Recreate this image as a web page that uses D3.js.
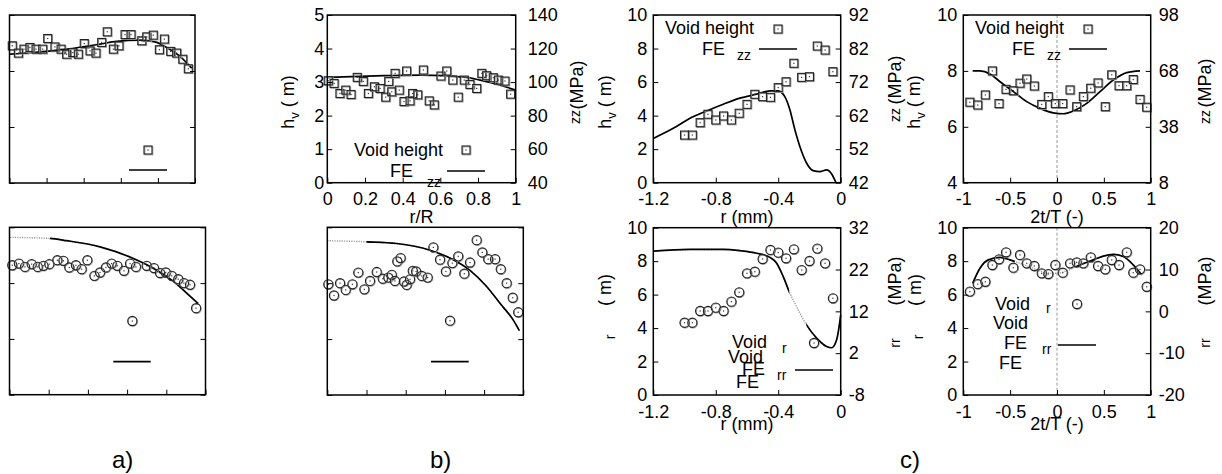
<!DOCTYPE html>
<meta charset="utf-8">
<style>
body { margin: 0; background: #fff; }
text { font-family: "Liberation Sans", Arial, sans-serif; fill: #000; }
</style>
<body>
<script src="https://cdn.jsdelivr.net/npm/d3@7"></script>
<script>

// ---- a) top : void height vs r/R (unlabelled axes)
var aTopR = [0.015,0.048,0.078,0.11,0.143,0.179,0.206,0.245,0.278,0.308,0.341,0.371,0.403,0.434,0.466,0.497,0.527,0.56,0.59,0.623,0.655,0.713,0.74,0.775,0.808,0.835,0.869,0.901,0.934,0.964];
var aTopH = [2.45,2.32,2.39,2.42,2.39,2.39,2.58,2.43,2.39,2.30,2.33,2.30,2.49,2.36,2.32,2.51,2.70,2.39,2.45,2.65,2.65,2.54,2.61,2.64,2.38,2.57,2.35,2.32,2.21,2.04];
var aTopFitR = [0.003,0.128,0.308,0.488,0.578,0.703,0.784,0.847,0.919,0.982];
var aTopFitV = [2.30,2.33,2.39,2.48,2.53,2.55,2.52,2.42,2.26,2.05];

// ---- a) bottom
var aBotR = [0.014,0.048,0.079,0.113,0.144,0.173,0.203,0.244,0.275,0.305,0.339,0.368,0.397,0.433,0.462,0.492,0.521,0.55,0.584,0.615,0.645,0.70,0.737,0.768,0.797,0.828,0.861,0.89,0.921,0.952];
var aBotV = [2.32,2.35,2.29,2.34,2.29,2.31,2.34,2.41,2.40,2.28,2.32,2.25,2.41,2.13,2.19,2.28,2.35,2.31,2.22,2.35,2.29,2.31,2.27,2.18,2.19,2.13,2.07,2.00,1.97,1.55];
var aBotFitR = [0.003,0.207,0.292,0.462,0.632,0.751,0.836,0.904,0.963];
var aBotFitV = [2.82,2.80,2.76,2.65,2.44,2.23,2.03,1.82,1.63];

// ---- b) top : h_v (um) vs r/R, FE sigma_zz (MPa)
var bTopR = [0.005,0.036,0.067,0.098,0.126,0.159,0.191,0.218,0.25,0.28,0.31,0.326,0.342,0.36,0.382,0.407,0.421,0.439,0.453,0.48,0.51,0.541,0.568,0.603,0.634,0.666,0.695,0.727,0.757,0.793,0.82,0.846,0.881,0.908,0.943,0.973];
var bTopH = [3.04,2.96,2.66,2.76,2.63,3.14,3.02,2.66,2.86,2.81,2.55,3.02,2.71,3.26,2.76,2.42,3.33,2.44,2.66,2.62,3.36,2.44,2.32,3.18,3.33,3.06,2.55,3.06,2.93,2.81,3.26,3.19,3.13,3.06,3.03,2.64];
var bTopFitR = [0, 0.3, 0.5, 0.74, 0.81, 0.90, 1.0];
var bTopFitS = [102.8, 103.8, 104.2, 102.8, 101.2, 98.8, 95.2];

// ---- b) bottom
var bBotR = [0.005,0.034,0.065,0.094,0.128,0.158,0.189,0.218,0.252,0.283,0.311,0.329,0.345,0.357,0.374,0.391,0.405,0.422,0.436,0.453,0.482,0.512,0.541,0.575,0.605,0.638,0.668,0.699,0.728,0.762,0.791,0.821,0.856,0.885,0.915,0.946,0.974];
var bBotV = [1.98,1.78,2.0,1.88,1.98,2.19,1.89,2.04,2.20,2.08,2.10,2.15,2.04,2.39,2.45,2.03,1.97,2.07,2.22,2.21,2.13,2.10,2.64,2.42,2.21,2.36,2.48,2.17,2.37,2.77,2.55,2.43,2.43,2.25,2.0,1.74,1.48];
var bBotFitR = [0.0, 0.2, 0.354, 0.524, 0.643, 0.728, 0.813, 0.881, 0.949, 0.98];
var bBotFitV = [2.76, 2.74, 2.71, 2.59, 2.42, 2.23, 1.94, 1.64, 1.34, 1.15];

// ---- c) left column : r (mm)
var cRadius = [-1.0,-0.95,-0.9,-0.85,-0.8,-0.75,-0.7,-0.65,-0.6,-0.55,-0.5,-0.45,-0.4,-0.35,-0.3,-0.25,-0.2,-0.15,-0.1,-0.05];
var cTopLH = [2.84,2.84,3.58,4.08,3.74,3.98,3.74,4.14,4.67,5.27,5.13,5.09,5.67,6.02,7.12,6.28,6.32,8.15,7.91,6.62];
var cTopLFitR = [-1.2,-1.072,-0.965,-0.858,-0.752,-0.645,-0.538,-0.453,-0.4,-0.357,-0.325,-0.293,-0.261,-0.218,-0.176,-0.133,-0.09,-0.058,-0.03];
var cTopLFitS = [55.2,58.2,61.2,63.4,65.4,67.2,68.4,69.4,69.4,67.6,63.7,57.7,52.7,47.8,45.6,45.3,45.8,44.6,42.0];
var cBotLH = [4.32,4.32,5.02,5.02,5.22,5.02,5.58,6.14,7.27,7.37,8.13,8.67,8.51,8.17,8.71,7.47,8.01,8.75,7.87,5.78];
var cBotLFitR = [-1.2,-0.965,-0.752,-0.645,-0.538,-0.453,-0.41,-0.368,-0.325,-0.282,-0.218,-0.154,-0.09,-0.058,-0.026,0];
var cBotLFitS = [26.4,26.8,26.8,26.5,25.9,24.9,23.5,20.3,16.3,13.1,8.7,5.6,3.6,3.3,5.2,11.1];

// ---- c) right column : 2t/T (-)
var cTime = [-0.93,-0.846,-0.765,-0.69,-0.619,-0.544,-0.466,-0.395,-0.323,-0.242,-0.163,-0.093,-0.018,0.061,0.139,0.21,0.281,0.36,0.438,0.515,0.584,0.662,0.744,0.814,0.886,0.957];
var cTopRH = [6.88,6.78,7.14,8.0,6.83,7.34,7.29,7.56,7.71,7.46,6.8,7.08,6.83,6.83,7.32,6.72,7.08,7.38,7.57,6.72,7.86,7.47,7.47,7.69,6.98,6.70];
var cTopRFitT = [-0.9,-0.822,-0.715,-0.608,-0.466,-0.323,-0.181,-0.04,0.067,0.174,0.317,0.459,0.601,0.744,0.886];
var cTopRFitS = [68,68,66.4,62.2,56.9,51.5,47.9,45.5,45,46.5,50.6,56.9,63.1,67.1,68];
var cBotRH = [6.18,6.63,6.77,7.77,8.11,8.53,7.61,8.37,7.87,7.71,7.27,7.23,7.77,7.31,7.87,7.93,7.87,8.23,7.71,7.51,8.07,7.77,8.53,7.31,7.51,6.47];
var cBotRFitT = [-0.9,-0.822,-0.733,-0.608,-0.502,-0.395,-0.253,-0.11,-0.003,0.104,0.245,0.387,0.494,0.601,0.708,0.814,0.904];
var cBotRFitS = [6.7,10.3,12.3,12.9,12.3,11.5,10.3,9.2,9.1,9.7,11.1,12.3,13.2,13.6,13.1,11.1,8.7];

// ---- tick values
var ticksRR = [0,0.2,0.4,0.6,0.8,1];
var ticksBlank = [0,1,2,3];
var ticksHvB = [0,1,2,3,4,5];
var ticksSzzB = [40,60,80,100,120,140];
var ticksRmm = [-1.2,-0.8,-0.4,0];
var ticksHv10 = [0,2,4,6,8,10];
var ticksSzzCL = [42,52,62,72,82,92];
var ticksSrrCL = [-8,2,12,22,32];
var ticksTime = [-1,-0.5,0,0.5,1];
var ticksHvCR = [4,6,8,10];
var ticksSzzCR = [8,38,68,98];
var ticksSrrCR = [-20,-10,0,10,20];

var FONT = "Liberation Sans, Arial, sans-serif";
var svg = d3.select("body").append("svg")
    .attr("width", 1222)
    .attr("height", 474)
    .style("background", "#fff");

var clipId = 0;

function squareMark(g, cx, cy) {
  g.append("rect").attr("x", cx - 3.2).attr("y", cy - 3.2).attr("width", 8).attr("height", 8)
    .attr("fill", "none").attr("stroke", "#9a9a9a").attr("stroke-width", 1.1);
  g.append("rect").attr("x", cx - 4).attr("y", cy - 4).attr("width", 8).attr("height", 8)
    .attr("fill", "none").attr("stroke", "#222").attr("stroke-width", 1.1);
  g.append("rect").attr("x", cx - 0.6).attr("y", cy - 0.6).attr("width", 1.2).attr("height", 1.2).attr("fill", "#333");
}

function circleMark(g, cx, cy) {
  g.append("circle").attr("cx", cx + 0.6).attr("cy", cy + 0.6).attr("r", 4.6)
    .attr("fill", "none").attr("stroke", "#9a9a9a").attr("stroke-width", 1.1);
  g.append("circle").attr("cx", cx).attr("cy", cy).attr("r", 4.6)
    .attr("fill", "none").attr("stroke", "#222").attr("stroke-width", 1.1);
  g.append("rect").attr("x", cx - 0.6).attr("y", cy - 0.6).attr("width", 1.2).attr("height", 1.2).attr("fill", "#333");
}

function txt(s, x, y, size, anchor) {
  return svg.append("text").attr("x", x).attr("y", y)
    .attr("font-size", size || 18).attr("text-anchor", anchor || "start").text(s);
}

function rotTxt(s, cx, cy, size) {
  return svg.append("text")
    .attr("transform", "translate(" + cx + "," + cy + ") rotate(-90)")
    .attr("text-anchor", "middle").attr("dy", "0.35em")
    .attr("font-size", size || 18).text(s);
}

function hvLabel(cx, cy) {
  var t = svg.append("text")
    .attr("transform", "translate(" + cx + "," + cy + ") rotate(-90)")
    .attr("text-anchor", "middle").attr("dy", "0.35em").attr("font-size", 18);
  t.append("tspan").text("h");
  t.append("tspan").attr("font-size", 13).attr("dy", 5).text("v");
  t.append("tspan").attr("dy", -5).text(" ( m)");
}

function drawPanel(p) {
  var g = svg.append("g");
  var x = d3.scaleLinear().domain(p.xDomain).range([p.x0, p.x1]);
  var yL = d3.scaleLinear().domain(p.yDomain).range([p.y1, p.y0]);
  var yR = d3.scaleLinear().domain(p.rDomain).range([p.y1, p.y0]);
  var yFit = p.fitRight ? yR : yL;

  if (p.zeroLine) {
    g.append("line").attr("x1", x(0)).attr("x2", x(0)).attr("y1", p.y0).attr("y2", p.y1)
      .attr("stroke", "#999").attr("stroke-width", 1).attr("stroke-dasharray", "3,2");
  }

  // FE curve
  var fit = p.fitX.map(function(v, i) { return [v, p.fitY[i]]; });
  var line = d3.line()
    .x(function(d) { return x(d[0]); })
    .y(function(d) { return yFit(d[1]); })
    .curve(d3.curveMonotoneX);
  if (p.fade) {
    clipId++;
    var cp = svg.append("clipPath").attr("id", "fc" + clipId);
    cp.append("rect").attr("x", 0).attr("y", 0).attr("width", x(p.fade[0])).attr("height", 474);
    cp.append("rect").attr("x", x(p.fade[1])).attr("y", 0).attr("width", 1222 - x(p.fade[1])).attr("height", 474);
    g.append("path").attr("d", line(fit)).attr("fill", "none")
      .attr("stroke", "#999").attr("stroke-width", 1.4).attr("stroke-dasharray", "1.2,1.2");
    g.append("path").attr("d", line(fit)).attr("fill", "none").attr("clip-path", "url(#fc" + clipId + ")")
      .attr("stroke", "#000").attr("stroke-width", 1.7);
  } else {
    g.append("path").attr("d", line(fit)).attr("fill", "none")
      .attr("stroke", "#000").attr("stroke-width", 1.7);
  }

  // measured void points
  var mark = p.symbol === "square" ? squareMark : circleMark;
  p.px.forEach(function(v, i) { mark(g, x(v), yL(p.py[i])); });

  // frame
  g.append("rect").attr("x", p.x0).attr("y", p.y0)
    .attr("width", p.x1 - p.x0).attr("height", p.y1 - p.y0)
    .attr("fill", "none").attr("stroke", "#000").attr("stroke-width", 1.5);

  function fmt(show) { return show ? function(d) { return String(d); } : function() { return ""; }; }
  function style(s) {
    s.select(".domain").remove();
    s.attr("font-size", 18).attr("font-family", FONT);
    s.selectAll("line").attr("stroke", "#000");
  }

  g.append("g").attr("transform", "translate(0," + p.y1 + ")")
    .call(d3.axisBottom(x).tickValues(p.xTicks).tickSizeInner(-5).tickSizeOuter(0)
      .tickPadding(10).tickFormat(fmt(p.labels)))
    .call(style);
  g.append("g").attr("transform", "translate(" + p.x0 + ",0)")
    .call(d3.axisLeft(yL).tickValues(p.yTicks).tickSizeInner(-5).tickSizeOuter(0)
      .tickPadding(p.lPad || 6).tickFormat(fmt(p.labels)))
    .call(style);
  g.append("g").attr("transform", "translate(" + p.x1 + ",0)")
    .call(d3.axisRight(yR).tickValues(p.rTicks).tickSizeInner(-5).tickSizeOuter(0)
      .tickPadding(p.rPad || 8).tickFormat(fmt(p.labels)))
    .call(style);
}

// ---------- a)
drawPanel({x0: 9.5, x1: 195, y0: 15, y1: 183, xDomain: [0, 1], yDomain: [0, 3], rDomain: [0, 3],
  xTicks: ticksRR, yTicks: ticksBlank, rTicks: ticksBlank, labels: false,
  px: aTopR, py: aTopH, symbol: "square", fitX: aTopFitR, fitY: aTopFitV, fitRight: false});
squareMark(svg, 148, 150);
svg.append("line").attr("x1", 129).attr("x2", 167).attr("y1", 170).attr("y2", 170).attr("stroke", "#000").attr("stroke-width", 1.7);

drawPanel({x0: 9.5, x1: 205.5, y0: 227.3, y1: 394.7, xDomain: [0, 1], yDomain: [0, 3], rDomain: [0, 3],
  xTicks: ticksRR, yTicks: ticksBlank, rTicks: ticksBlank, labels: false,
  px: aBotR, py: aBotV, symbol: "circle", fitX: aBotFitR, fitY: aBotFitV, fitRight: false, fade: [-1, 0.207]});
circleMark(svg, 132.3, 321);
svg.append("line").attr("x1", 113.3).attr("x2", 150.7).attr("y1", 361.7).attr("y2", 361.7).attr("stroke", "#000").attr("stroke-width", 1.7);

// ---------- b)
drawPanel({x0: 327.3, x1: 515.7, y0: 15, y1: 182.7, xDomain: [0, 1], yDomain: [0, 5], rDomain: [40, 140],
  xTicks: ticksRR, yTicks: ticksHvB, rTicks: ticksSzzB, labels: true, lPad: 3, rPad: 12,
  px: bTopR, py: bTopH, symbol: "square", fitX: bTopFitR, fitY: bTopFitS, fitRight: true});
txt("r/R", 421.5, 223, 18, "middle");
hvLabel(288, 102);
rotTxt("(MPa)", 577, 85);
rotTxt("zz", 575, 117, 14);
txt("Void height", 443, 156, 18, "end");
squareMark(svg, 466, 150);
txt("FE", 390, 177);
txt("zz", 427, 187, 14);
svg.append("line").attr("x1", 447).attr("x2", 485).attr("y1", 171).attr("y2", 171).attr("stroke", "#000").attr("stroke-width", 1.7);

drawPanel({x0: 327.3, x1: 523.3, y0: 227.3, y1: 395, xDomain: [0, 1], yDomain: [0, 3], rDomain: [0, 3],
  xTicks: ticksRR, yTicks: ticksBlank, rTicks: ticksBlank, labels: false,
  px: bBotR, py: bBotV, symbol: "circle", fitX: bBotFitR, fitY: bBotFitV, fitRight: false, fade: [-1, 0.2]});
circleMark(svg, 450, 320.7);
svg.append("line").attr("x1", 431).attr("x2", 468.7).attr("y1", 361.7).attr("y2", 361.7).attr("stroke", "#000").attr("stroke-width", 1.7);

// ---------- c) left column
drawPanel({x0: 653.3, x1: 840.7, y0: 15, y1: 182.7, xDomain: [-1.2, 0], yDomain: [0, 10], rDomain: [42, 92],
  xTicks: ticksRmm, yTicks: ticksHv10, rTicks: ticksSzzCL, labels: true, lPad: 6, rPad: 8,
  px: cRadius, py: cTopLH, symbol: "square", fitX: cTopLFitR, fitY: cTopLFitS, fitRight: true});
txt("r (mm)", 747, 223, 18, "middle");
hvLabel(605, 102);
rotTxt("(MPa)", 895, 80);
rotTxt("zz", 895, 115, 14);
txt("Void height", 754, 34, 18, "end");
squareMark(svg, 778, 29);
txt("FE", 702, 55);
txt("zz", 737, 60, 14);
svg.append("line").attr("x1", 759).attr("x2", 797).attr("y1", 49).attr("y2", 49).attr("stroke", "#000").attr("stroke-width", 1.7);

drawPanel({x0: 653.3, x1: 840.7, y0: 227.7, y1: 395, xDomain: [-1.2, 0], yDomain: [0, 10], rDomain: [-8, 32],
  xTicks: ticksRmm, yTicks: ticksHv10, rTicks: ticksSrrCL, labels: true, lPad: 6, rPad: 8,
  px: cRadius, py: cBotLH, symbol: "circle", fitX: cBotLFitR, fitY: cBotLFitS, fitRight: true, fade: [-0.33, -0.22]});
txt("r (mm)", 747, 430, 18, "middle");
rotTxt("( m)", 605, 290);
rotTxt("r", 610, 337, 14);
rotTxt("(MPa)", 895, 281);
rotTxt("rr", 895, 343, 14);
txt("Void", 732, 348);
txt("Void", 728, 363);
txt("FE", 742, 375);
txt("FE", 736, 388);
txt("r", 782, 353, 14);
txt("rr", 777, 380, 14);
circleMark(svg, 814, 343);
svg.append("line").attr("x1", 795).attr("x2", 833).attr("y1", 370).attr("y2", 370).attr("stroke", "#000").attr("stroke-width", 1.7);

// ---------- c) right column
drawPanel({x0: 963.3, x1: 1150.7, y0: 15, y1: 182.7, xDomain: [-1, 1], yDomain: [4, 10], rDomain: [8, 98],
  xTicks: ticksTime, yTicks: ticksHvCR, rTicks: ticksSzzCR, labels: true, lPad: 6, rPad: 8, zeroLine: true,
  px: cTime, py: cTopRH, symbol: "square", fitX: cTopRFitT, fitY: cTopRFitS, fitRight: true});
txt("2t/T (-)", 1057, 223, 18, "middle");
hvLabel(914, 102);
rotTxt("(MPa)", 1205, 83);
rotTxt("zz", 1205, 117, 14);
txt("Void height", 1064, 34, 18, "end");
squareMark(svg, 1088, 29);
txt("FE", 1012, 55);
txt("zz", 1047, 60, 14);
svg.append("line").attr("x1", 1069).attr("x2", 1107).attr("y1", 49).attr("y2", 49).attr("stroke", "#000").attr("stroke-width", 1.7);

drawPanel({x0: 963.3, x1: 1150.7, y0: 227.7, y1: 395, xDomain: [-1, 1], yDomain: [0, 10], rDomain: [-20, 20],
  xTicks: ticksTime, yTicks: ticksHv10, rTicks: ticksSrrCR, labels: true, lPad: 6, rPad: 8, zeroLine: true,
  px: cTime, py: cBotRH, symbol: "circle", fitX: cBotRFitT, fitY: cBotRFitS, fitRight: true, fade: [-0.45, 0.2]});
txt("2t/T (-)", 1057, 430, 18, "middle");
rotTxt("( m)", 915, 290);
rotTxt("r", 918, 337, 14);
rotTxt("(MPa)", 1205, 281);
rotTxt("rr", 1205, 343, 14);
txt("Void", 995, 310);
txt("Void", 993, 329);
txt("FE", 1004, 349);
txt("FE", 999, 369);
txt("r", 1046, 313, 14);
txt("rr", 1042, 354, 14);
circleMark(svg, 1077, 304);
svg.append("line").attr("x1", 1058).attr("x2", 1096).attr("y1", 345).attr("y2", 345).attr("stroke", "#000").attr("stroke-width", 1.7);

// ---------- figure letters
txt("a)", 112, 468, 24);
txt("b)", 430, 468, 24);
txt("c)", 900, 468, 24);

</script>
